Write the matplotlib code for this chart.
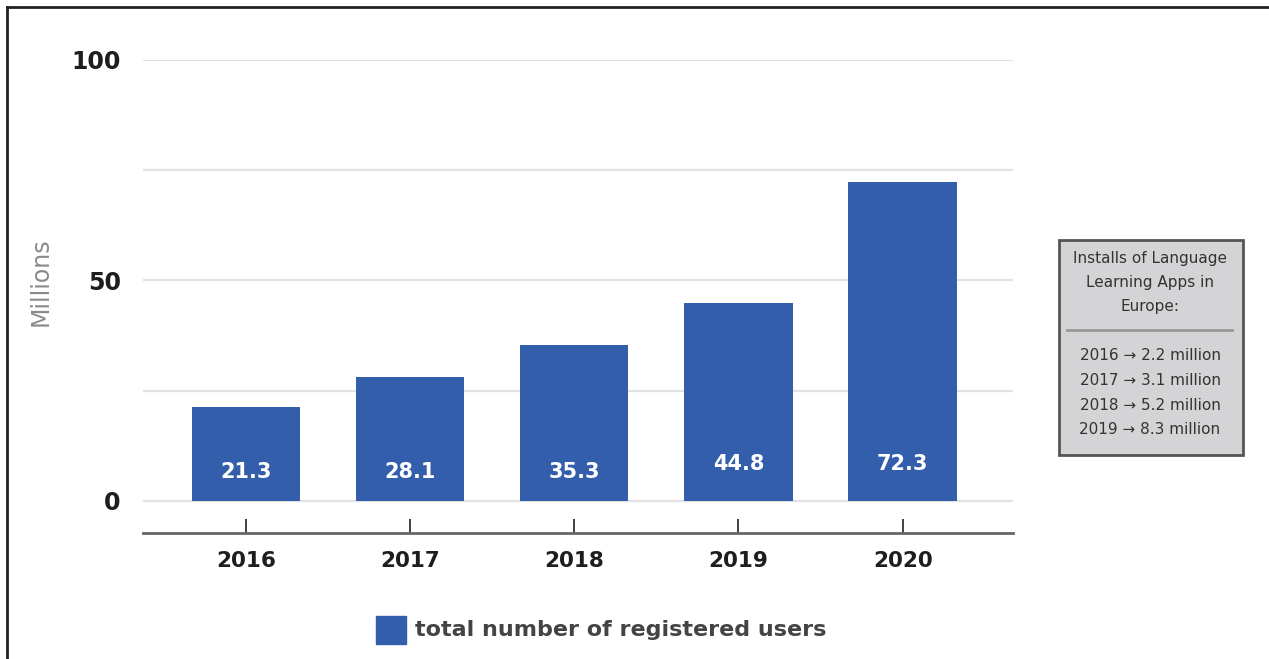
import matplotlib.pyplot as plt
from matplotlib.lines import Line2D
from matplotlib.patches import Rectangle

years = ['2016', '2017', '2018', '2019', '2020']
users = [21.3, 28.1, 35.3, 44.8, 72.3]
installs_years = ['2016', '2017', '2018', '2019']
installs = [2.2, 3.1, 5.2, 8.3]

bar_color = '#335eac'

fig = plt.figure(figsize=(12.69, 6.59), dpi=100)
ax = fig.add_axes([0.1127, 0.1912, 0.6853, 0.7178])

x = list(range(len(years)))
ax.bar(x, users, width=0.66, color=bar_color, zorder=3)
for xi, v in zip(x, users):
    ax.text(xi, 6.5 if v < 40 else 8.3, f'{v}', ha='center', va='center',
            color='white', fontsize=15, fontweight='bold', zorder=4)

ax.set_xlim(-0.627, 4.67)
ax.set_ylim(-7.3, 100)
for g in [0, 25, 50, 75, 100]:
    ax.axhline(g, color='#e3e3e3', lw=1.6, zorder=1)

ax.set_xticks(x)
ax.set_xticklabels(years, fontsize=15.5, fontweight='bold', color='#1e1e1e')
ax.tick_params(axis='x', direction='in', length=10, width=1.3, color='#333333', pad=13)
ax.set_yticks([0, 50, 100])
ax.set_yticklabels(['0', '50', '100'], fontsize=17, fontweight='bold', color='#1e1e1e')
ax.tick_params(axis='y', length=0, pad=16)
for lbl in ax.get_yticklabels():
    lbl.set_va('center_baseline')
for s in ['top', 'right', 'left']:
    ax.spines[s].set_visible(False)
ax.spines['bottom'].set_color('#666666')
ax.spines['bottom'].set_linewidth(2)

fig.text(0.032, 0.572, 'Millions', rotation=90, ha='center', va='center',
         fontsize=17, color='#8a8a8a')

# legend
fig.patches.append(Rectangle((376 / 1269, 1 - 644 / 659), 30 / 1269, 28 / 659,
                             transform=fig.transFigure, color=bar_color))
fig.text(415 / 1269, 1 - 630 / 659, 'total number of registered users',
         ha='left', va='center', fontsize=16, fontweight='bold', color='#444444')

# side box
fig.patches.append(Rectangle((1059 / 1269, 1 - 455 / 659), 184 / 1269, 215 / 659,
                             transform=fig.transFigure, facecolor='#d4d4d6',
                             edgecolor='#555555', lw=2))
cx = 1150 / 1269
for i, line in enumerate(['Installs of Language', 'Learning Apps in', 'Europe:']):
    fig.text(cx, 1 - (259 + 24 * i) / 659, line, ha='center', va='center',
             fontsize=11, color='#333333')
fig.lines.append(Line2D([1067 / 1269, 1232 / 1269], [1 - 330 / 659] * 2,
                        transform=fig.transFigure, color='#999999', lw=2))
for i, (yr, val) in enumerate(zip(installs_years, installs)):
    fig.text(cx, 1 - (356 + 24.5 * i) / 659, f'{yr} \u2192 {val} million',
             ha='center', va='center', fontsize=11, color='#333333')

# outer frame (left and top)
fig.lines.append(Line2D([7 / 1269, 7 / 1269], [0, 1 - 7 / 659],
                        transform=fig.transFigure, color='#222222', lw=2))
fig.lines.append(Line2D([7 / 1269, 1], [1 - 7 / 659] * 2,
                        transform=fig.transFigure, color='#222222', lw=2))

fig.savefig('out.png', dpi=100)
